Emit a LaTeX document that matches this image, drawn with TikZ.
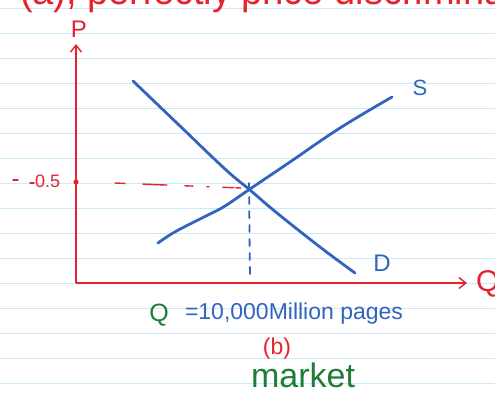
\documentclass[tikz,border=0pt]{standalone}
\usepackage{fontspec}
\setmainfont{Liberation Sans}
\usetikzlibrary{arrows.meta}
\definecolor{penred}{RGB}{230,35,45}
\definecolor{penblue}{RGB}{50,100,190}
\definecolor{pengreen}{RGB}{30,125,55}
\definecolor{ruled}{RGB}{205,232,248}
\tikzset{
  paperline/.style={ruled, line width=1.2pt},
  axisline/.style={penred, line width=1.4pt},
  curveline/.style={penblue, line width=2.8pt, line cap=round, line join=round},
  guidered/.style={penred, line width=1.4pt, line cap=round},
  guideblue/.style={penblue, line width=1.8pt, line cap=round},
  hand/.style={inner sep=0pt, outer sep=0pt},
}
\begin{document}
\begin{tikzpicture}[x=1pt,y=-1pt]
\useasboundingbox (0,0) rectangle (495,394);
\fill[white] (0,0) rectangle (495,394);
\foreach \k in {0,...,15} \draw[paperline] (0,8.3+25*\k) -- (495,8.3+25*\k);

% partly visible heading
\node[hand, anchor=base west, penred, font=\fontsize{40}{40}\selectfont, xscale=0.95] (head) at (20,4) {(a), perfectly price discrimination};

% axes
\coordinate (O) at (76,283);
\coordinate (Ptop) at (76,44);
\coordinate (Qend) at (467,283);
\draw[axisline, -{Straight Barb[length=7pt,width=11pt]}] (O) -- (Ptop);
\draw[axisline, -{Straight Barb[length=7pt,width=11pt]}] (O) -- (Qend);
\node[hand, penred, font=\fontsize{24}{24}\selectfont] (P) at (79,29) {P};
\node[hand, penred, font=\fontsize{30}{30}\selectfont, anchor=west] (Q) at (476,284) {Q};

% curves
\draw[curveline] plot[smooth, tension=0.7] coordinates {(133,81) (180,126) (225,169) (250,190) (277,213) (320,247) (355,273)};
\draw[curveline] plot[smooth, tension=0.7] coordinates {(158,243) (173,233) (192,223) (210,214) (225,206) (250,189) (290,162) (340,128) (392,97)};
\coordinate (E) at (249,188);
\node[hand, penblue, font=\fontsize{22}{22}\selectfont] (S) at (420,88) {S};
\node[hand, penblue, font=\fontsize{24}{24}\selectfont] (D) at (382,263) {D};

% guides
\coordinate (Pdot) at (76,182);
\coordinate (Qfoot) at (250,280);
\coordinate (Gl) at (115,183);
\fill[penred] (Pdot) circle (2.6pt);
\draw[guidered, dash pattern=on 10pt off 18pt on 24pt off 18pt on 8pt off 14pt on 2pt off 14pt on 11pt off 2pt] (Gl) -- ([xshift=-8pt]E);
\draw[guideblue, dash pattern=on 7pt off 7pt] ([yshift=5pt]E) -- (Qfoot);
\coordinate (d1a) at (13,180);
\coordinate (d1b) at (18,180);
\coordinate (d2a) at (30,183);
\coordinate (d2b) at (34,183);
\draw[guidered] (d1a) -- (d1b);
\draw[guidered] (d2a) -- (d2b);
\node[hand, penred, font=\fontsize{18}{18}\selectfont, anchor=west] (half) at (35,181) {0.5};

% captions
\node[hand, pengreen, font=\fontsize{25}{25}\selectfont] (Qeq) at (159,315) {Q};
\node[hand, penblue, font=\fontsize{23}{23}\selectfont, anchor=west] (val) at (185,314) {=10,000Million pages};
\node[hand, penred, font=\fontsize{23}{23}\selectfont] (b) at (277,349) {(b)};
\node[hand, pengreen, font=\fontsize{34}{34}\selectfont] (mk) at (303,375) {market};
\end{tikzpicture}
\end{document}
